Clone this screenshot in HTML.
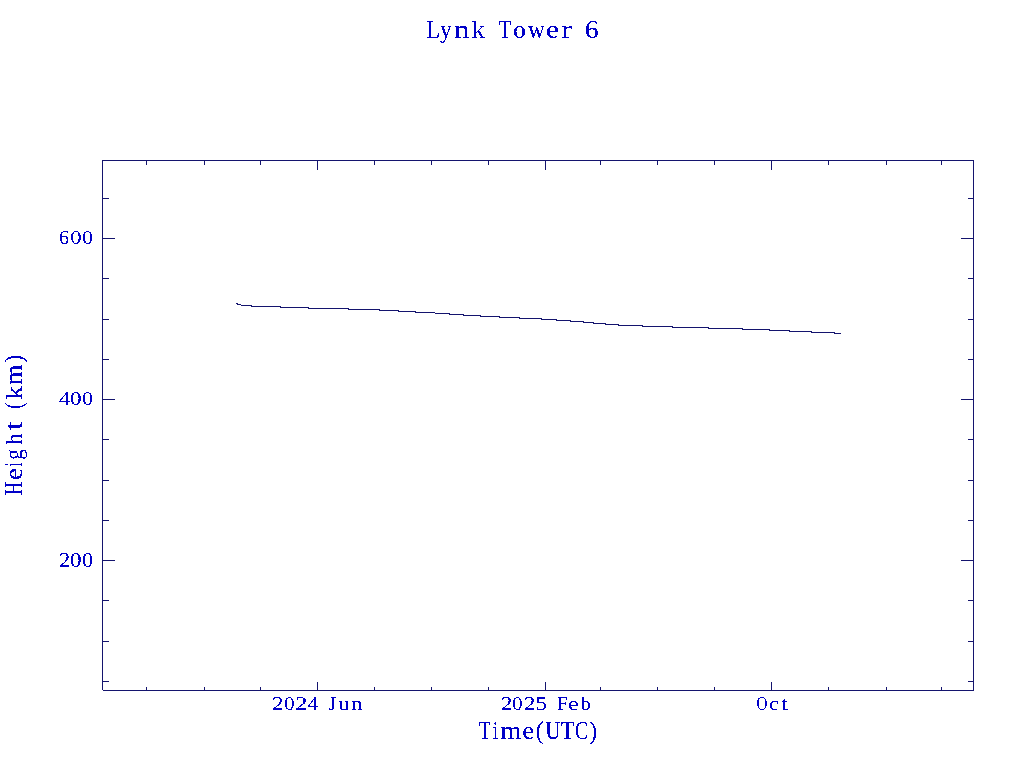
<!DOCTYPE html>
<html><head><meta charset="utf-8"><title>Lynk Tower 6</title>
<style>
html,body{margin:0;padding:0;background:#fff;}
body{width:1024px;height:768px;overflow:hidden;}
svg{display:block;will-change:transform;}
text{font-family:"Liberation Serif",serif;fill:#0000c8}
</style></head>
<body>
<svg width="1024" height="768" viewBox="0 0 1024 768">
<rect x="0" y="0" width="1024" height="768" fill="#fff"/>
<g shape-rendering="crispEdges">
<rect x="102" y="160" width="872" height="1" fill="#14146e"/>
<rect x="103" y="690" width="871" height="1" fill="#14146e"/>
<rect x="102" y="160" width="1" height="530" fill="#14146e"/>
<rect x="973" y="160" width="1" height="531" fill="#14146e"/>
<rect x="317" y="682" width="1" height="9" fill="#14146e"/>
<rect x="317" y="160" width="1" height="10" fill="#14146e"/>
<rect x="545" y="682" width="1" height="9" fill="#14146e"/>
<rect x="545" y="160" width="1" height="10" fill="#14146e"/>
<rect x="771" y="682" width="1" height="9" fill="#14146e"/>
<rect x="771" y="160" width="1" height="10" fill="#14146e"/>
<rect x="146" y="687" width="1" height="4" fill="#14146e"/>
<rect x="146" y="160" width="1" height="5" fill="#14146e"/>
<rect x="204" y="687" width="1" height="4" fill="#14146e"/>
<rect x="204" y="160" width="1" height="5" fill="#14146e"/>
<rect x="260" y="687" width="1" height="4" fill="#14146e"/>
<rect x="260" y="160" width="1" height="5" fill="#14146e"/>
<rect x="374" y="687" width="1" height="4" fill="#14146e"/>
<rect x="374" y="160" width="1" height="5" fill="#14146e"/>
<rect x="431" y="687" width="1" height="4" fill="#14146e"/>
<rect x="431" y="160" width="1" height="5" fill="#14146e"/>
<rect x="488" y="687" width="1" height="4" fill="#14146e"/>
<rect x="488" y="160" width="1" height="5" fill="#14146e"/>
<rect x="600" y="687" width="1" height="4" fill="#14146e"/>
<rect x="600" y="160" width="1" height="5" fill="#14146e"/>
<rect x="657" y="687" width="1" height="4" fill="#14146e"/>
<rect x="657" y="160" width="1" height="5" fill="#14146e"/>
<rect x="714" y="687" width="1" height="4" fill="#14146e"/>
<rect x="714" y="160" width="1" height="5" fill="#14146e"/>
<rect x="828" y="687" width="1" height="4" fill="#14146e"/>
<rect x="828" y="160" width="1" height="5" fill="#14146e"/>
<rect x="886" y="687" width="1" height="4" fill="#14146e"/>
<rect x="886" y="160" width="1" height="5" fill="#14146e"/>
<rect x="941" y="687" width="1" height="4" fill="#14146e"/>
<rect x="941" y="160" width="1" height="5" fill="#14146e"/>
<rect x="102" y="238" width="13" height="1" fill="#14146e"/>
<rect x="961" y="238" width="13" height="1" fill="#14146e"/>
<rect x="102" y="399" width="13" height="1" fill="#14146e"/>
<rect x="961" y="399" width="13" height="1" fill="#14146e"/>
<rect x="102" y="560" width="13" height="1" fill="#14146e"/>
<rect x="961" y="560" width="13" height="1" fill="#14146e"/>
<rect x="102" y="198" width="7" height="1" fill="#14146e"/>
<rect x="968" y="198" width="6" height="1" fill="#14146e"/>
<rect x="102" y="278" width="7" height="1" fill="#14146e"/>
<rect x="968" y="278" width="6" height="1" fill="#14146e"/>
<rect x="102" y="319" width="7" height="1" fill="#14146e"/>
<rect x="968" y="319" width="6" height="1" fill="#14146e"/>
<rect x="102" y="359" width="7" height="1" fill="#14146e"/>
<rect x="968" y="359" width="6" height="1" fill="#14146e"/>
<rect x="102" y="439" width="7" height="1" fill="#14146e"/>
<rect x="968" y="439" width="6" height="1" fill="#14146e"/>
<rect x="102" y="480" width="7" height="1" fill="#14146e"/>
<rect x="968" y="480" width="6" height="1" fill="#14146e"/>
<rect x="102" y="520" width="7" height="1" fill="#14146e"/>
<rect x="968" y="520" width="6" height="1" fill="#14146e"/>
<rect x="102" y="600" width="7" height="1" fill="#14146e"/>
<rect x="968" y="600" width="6" height="1" fill="#14146e"/>
<rect x="102" y="641" width="7" height="1" fill="#14146e"/>
<rect x="968" y="641" width="6" height="1" fill="#14146e"/>
<rect x="102" y="681" width="7" height="1" fill="#14146e"/>
<rect x="968" y="681" width="6" height="1" fill="#14146e"/>
<rect x="236" y="303" width="2" height="1" fill="#14146e"/>
<rect x="237" y="304" width="4" height="1" fill="#14146e"/>
<rect x="241" y="305" width="11" height="1" fill="#14146e"/>
<rect x="251" y="306" width="30" height="1" fill="#14146e"/>
<rect x="280" y="307" width="29" height="1" fill="#14146e"/>
<rect x="308" y="308" width="41" height="1" fill="#14146e"/>
<rect x="348" y="309" width="32" height="1" fill="#14146e"/>
<rect x="379" y="310" width="20" height="1" fill="#14146e"/>
<rect x="398" y="311" width="18" height="1" fill="#14146e"/>
<rect x="415" y="312" width="20" height="1" fill="#14146e"/>
<rect x="435" y="313" width="15" height="1" fill="#14146e"/>
<rect x="449" y="314" width="15" height="1" fill="#14146e"/>
<rect x="463" y="315" width="18" height="1" fill="#14146e"/>
<rect x="480" y="316" width="20" height="1" fill="#14146e"/>
<rect x="499" y="317" width="21" height="1" fill="#14146e"/>
<rect x="519" y="318" width="23" height="1" fill="#14146e"/>
<rect x="541" y="319" width="16" height="1" fill="#14146e"/>
<rect x="556" y="320" width="15" height="1" fill="#14146e"/>
<rect x="570" y="321" width="14" height="1" fill="#14146e"/>
<rect x="583" y="322" width="11" height="1" fill="#14146e"/>
<rect x="593" y="323" width="13" height="1" fill="#14146e"/>
<rect x="605" y="324" width="14" height="1" fill="#14146e"/>
<rect x="618" y="325" width="25" height="1" fill="#14146e"/>
<rect x="642" y="326" width="31" height="1" fill="#14146e"/>
<rect x="672" y="327" width="37" height="1" fill="#14146e"/>
<rect x="708" y="328" width="35" height="1" fill="#14146e"/>
<rect x="742" y="329" width="28" height="1" fill="#14146e"/>
<rect x="769" y="330" width="21" height="1" fill="#14146e"/>
<rect x="789" y="331" width="23" height="1" fill="#14146e"/>
<rect x="811" y="332" width="24" height="1" fill="#14146e"/>
<rect x="834" y="333" width="7" height="1" fill="#14146e"/>
</g>
<defs><filter id="bin" x="0" y="0" width="1024" height="768" filterUnits="userSpaceOnUse" color-interpolation-filters="sRGB"><feComponentTransfer><feFuncA type="discrete" tableValues="0 0 0 1 1 1 1"/></feComponentTransfer></filter></defs>
<g filter="url(#bin)">
<text transform="translate(426.25,38) scale(0.862,1.000)" font-size="26">L</text>
<text transform="translate(439.91,38) scale(0.898,1.000)" font-size="26">y</text>
<text transform="translate(454.09,38) scale(1.191,1.000)" font-size="26">n</text>
<text transform="translate(471.49,38) scale(1.032,0.944)" font-size="26">k</text>
<text transform="translate(498.62,38) scale(0.801,1.000)" font-size="26">T</text>
<text transform="translate(513.25,38) scale(0.962,1.000)" font-size="26">o</text>
<text transform="translate(528.08,38) scale(0.896,1.000)" font-size="26">w</text>
<text transform="translate(545.95,38) scale(1.133,1.000)" font-size="26">e</text>
<text transform="translate(561.15,38) scale(1.252,1.000)" font-size="26">r</text>
<text transform="translate(584.80,38) scale(1.071,1.000)" font-size="26">6</text>
<text transform="translate(59.04,243.8) scale(1.038,1.000)" font-size="19.4">6</text>
<text transform="translate(70.34,243.8) scale(1.168,1.000)" font-size="19.4">0</text>
<text transform="translate(82.29,243.8) scale(1.095,1.000)" font-size="19.4">0</text>
<text transform="translate(58.65,404.8) scale(1.198,1.000)" font-size="19.4">4</text>
<text transform="translate(70.12,404.8) scale(1.192,1.000)" font-size="19.4">0</text>
<text transform="translate(82.29,404.8) scale(1.095,1.000)" font-size="19.4">0</text>
<text transform="translate(58.91,566.7) scale(1.157,1.090)" font-size="19.4">2</text>
<text transform="translate(70.12,566.7) scale(1.192,1.090)" font-size="19.4">0</text>
<text transform="translate(82.18,566.7) scale(1.107,1.090)" font-size="19.4">0</text>
<text transform="translate(271.90,709.7) scale(1.170,1.000)" font-size="19.4">2</text>
<text transform="translate(284.31,709.7) scale(1.070,1.000)" font-size="19.4">0</text>
<text transform="translate(295.00,709.7) scale(1.286,1.000)" font-size="19.4">2</text>
<text transform="translate(307.69,709.7) scale(1.087,1.000)" font-size="19.4">4</text>
<text transform="translate(328.58,709.7) scale(1.024,1.000)" font-size="19.4">J</text>
<text transform="translate(338.52,709.7) scale(1.097,1.000)" font-size="19.4">u</text>
<text transform="translate(350.66,709.7) scale(1.205,1.000)" font-size="19.4">n</text>
<text transform="translate(500.91,709.7) scale(1.157,1.000)" font-size="19.4">2</text>
<text transform="translate(512.31,709.7) scale(1.070,1.000)" font-size="19.4">0</text>
<text transform="translate(524.11,709.7) scale(1.157,1.000)" font-size="19.4">2</text>
<text transform="translate(535.80,709.7) scale(1.152,1.000)" font-size="19.4">5</text>
<text transform="translate(557.48,709.7) scale(0.923,1.000)" font-size="19.4">F</text>
<text transform="translate(568.29,709.7) scale(1.198,1.000)" font-size="19.4">e</text>
<text transform="translate(581.20,709.7) scale(0.982,0.944)" font-size="19.4">b</text>
<text transform="translate(756.48,709.7) scale(0.781,1.000)" font-size="19.4">O</text>
<text transform="translate(769.21,709.7) scale(1.072,1.000)" font-size="19.4">c</text>
<text transform="translate(781.06,709.7) scale(1.278,1.000)" font-size="19.4">t</text>
<text transform="translate(478.54,739) scale(0.818,1.000)" font-size="24.4">T</text>
<text transform="translate(492.56,739) scale(0.862,1.000)" font-size="24.4">i</text>
<text transform="translate(500.33,739) scale(1.117,1.000)" font-size="24.4">m</text>
<text transform="translate(522.16,739) scale(1.096,1.000)" font-size="24.4">e</text>
<text transform="translate(535.74,739) scale(0.989,1.000)" font-size="24.4">(</text>
<text transform="translate(545.26,739) scale(0.868,1.000)" font-size="24.4">U</text>
<text transform="translate(561.01,739) scale(0.875,1.000)" font-size="24.4">T</text>
<text transform="translate(574.67,739) scale(0.833,1.000)" font-size="24.4">C</text>
<text transform="translate(589.47,739) scale(0.926,1.000)" font-size="24.4">)</text>
<text transform="translate(22,495) rotate(-90) translate(-0.46,0) scale(0.790,1.000)" font-size="24.4">H</text>
<text transform="translate(22,495) rotate(-90) translate(14.82,0) scale(1.129,1.000)" font-size="24.4">e</text>
<text transform="translate(22,495) rotate(-90) translate(28.49,0) scale(0.603,1.000)" font-size="24.4">i</text>
<text transform="translate(22,495) rotate(-90) translate(35.33,0) scale(0.875,1.000)" font-size="24.4">g</text>
<text transform="translate(22,495) rotate(-90) translate(50.07,0) scale(0.971,0.944)" font-size="24.4">h</text>
<text transform="translate(22,495) rotate(-90) translate(64.89,0) scale(1.282,1.000)" font-size="24.4">t</text>
<text transform="translate(22,495) rotate(-90) translate(86.13,0) scale(0.814,1.000)" font-size="24.4">(</text>
<text transform="translate(22,495) rotate(-90) translate(95.59,0) scale(1.099,0.944)" font-size="24.4">k</text>
<text transform="translate(22,495) rotate(-90) translate(109.94,0) scale(1.084,1.000)" font-size="24.4">m</text>
<text transform="translate(22,495) rotate(-90) translate(132.46,0) scale(0.941,1.000)" font-size="24.4">)</text>
</g>
</svg>
</body></html>
